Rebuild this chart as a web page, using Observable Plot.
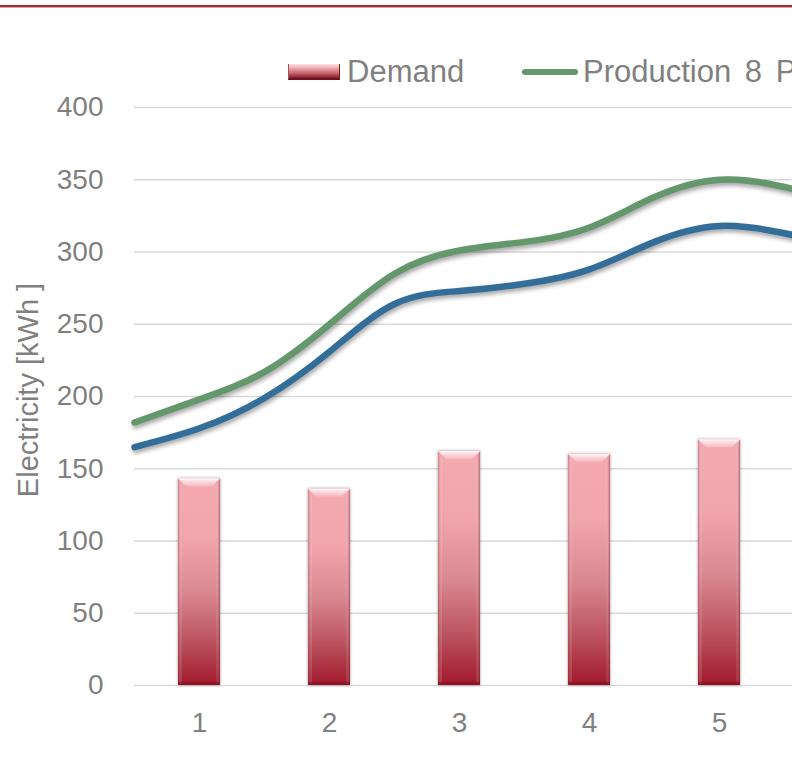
<!DOCTYPE html>
<html>
<head>
<meta charset="utf-8">
<script src="https://cdn.jsdelivr.net/npm/d3@7"></script>
<script src="https://cdn.jsdelivr.net/npm/@observablehq/plot@0.6"></script>
<style>
  html, body { margin: 0; padding: 0; overflow: hidden; background: #fff; width: 792px; height: 777px; }
  #wrap { position: relative; width: 934px; height: 777px; font-family: "Liberation Sans", Arial, sans-serif; color: #808080; }
  #topRule { position: absolute; left: 0; top: 5px; width: 100%; height: 2px; background: #a3283e; }
  #topRule2 { position: absolute; left: 0; top: 7px; width: 100%; height: 1px; background: #dba1aa; }
  #chart { position: absolute; left: 0; top: 0; }
  #legend { position: absolute; left: 288px; top: 52px; height: 40px; white-space: nowrap; font-size: 31px; line-height: 40px; word-spacing: 5px; }
  .item { position: absolute; top: 0; display: flex; align-items: center; height: 40px; }
  .barSwatch { width: 52px; height: 16px; box-sizing: border-box; margin-right: 7px;
    background: linear-gradient(to bottom, #fde6e9 0%, #f2b3ba 25%, #c9646f 65%, #85192a 100%);
    border-bottom: 2px solid #6e1020; border-left: 1px solid #a0505c; border-right: 1px solid #7a1a28; }
  .lineSwatch { width: 56px; height: 6px; border-radius: 3px; background: #64976b; margin-right: 5px; }
  #ytitle { position: absolute; left: 28px; top: 390px; transform: translate(-50%, -50%) rotate(-90deg); font-size: 29px; white-space: nowrap; }
  g[aria-label="line"] { filter: drop-shadow(1px 3px 2px rgba(0,0,0,0.35)); }
  g[aria-label="rect"] { filter: drop-shadow(0 0 1.5px rgba(60,0,10,0.45)); }
</style>
</head>
<body>
<div id="wrap">
  <div id="topRule"></div>
  <div id="topRule2"></div>
  <div id="chart"></div>
  <div id="legend"></div>
  <div id="ytitle"></div>
</div>
<script>
// Daily categories and the demand per category (kWh)
const categories = [1, 2, 3, 4, 5];
const demand = [143, 136, 162, 160, 170];

// Production curves, sampled at whole and half categories (kWh)
const linePositions = [0.5, 1, 1.5, 2, 2.5, 3, 3.5, 4, 4.5, 5, 5.5, 6];
const production8 = [182, 198, 217, 250, 285, 301, 307, 317, 338, 350, 345, 333];
const production7 = [165, 178, 199, 231, 264, 273, 278, 288, 307, 318, 313, 303];

const yTicks = [0, 50, 100, 150, 200, 250, 300, 350, 400];
const seriesNames = ["Demand", "Production 8 PV modules", "Production 7 PV modules"];
const seriesColors = ["#b03a48", "#64976b", "#336d9a"];
const yTitle = "Electricity [kWh ]";

const demandRows = categories.map((c, i) => ({cat: c, value: demand[i]}));
const prod8Rows = linePositions.map((p, i) => ({pos: p, value: production8[i]}));
const prod7Rows = linePositions.map((p, i) => ({pos: p, value: production7[i]}));

const chart = Plot.plot({
  width: 934,
  height: 777,
  marginLeft: 134,
  marginRight: 20,
  marginTop: 107,
  marginBottom: 92,
  style: {
    fontFamily: "'Liberation Sans', Arial, sans-serif",
    fontSize: "28px",
    color: "#808080",
    background: "transparent",
    overflow: "visible"
  },
  x: {type: "linear", domain: [0.5, 6.5], ticks: categories, tickFormat: d => String(d),
      tickSize: 0, tickPadding: 27, label: null},
  y: {domain: [0, 400], ticks: yTicks, tickSize: 0, tickPadding: 31, label: null},
  marks: [
    Plot.ruleY(yTicks, {stroke: "#d9d9d9", strokeWidth: 1.5}),
    Plot.rectY(demandRows, {
      x1: d => d.cat - 0.5, x2: d => d.cat + 0.5, y: "value",
      insetLeft: 44, insetRight: 44, fill: "url(#barFill)"
    }),
    Plot.line(prod8Rows, {x: "pos", y: "value", stroke: seriesColors[1], strokeWidth: 6.5, curve: "natural"}),
    Plot.line(prod7Rows, {x: "pos", y: "value", stroke: seriesColors[2], strokeWidth: 6.5, curve: "natural"})
  ]
});

// Gradients for the bevelled bars
const svg = d3.select(chart);
const defs = svg.insert("defs", ":first-child");
const addGrad = (id, stops, horizontal) => {
  const g = defs.append("linearGradient").attr("id", id)
    .attr("x1", 0).attr("y1", 0).attr("x2", horizontal ? 1 : 0).attr("y2", horizontal ? 0 : 1);
  stops.forEach(([o, c, a]) => g.append("stop").attr("offset", o).attr("stop-color", c).attr("stop-opacity", a ?? 1));
};
addGrad("barFill", [[0, "#f5aab2"], [0.3, "#f0a4ac"], [0.55, "#d98891"], [0.8, "#b9505c"], [1, "#a1182b"]]);
addGrad("bevelTop", [[0, "#ffffff", 0.95], [1, "#f7c4c9", 0.6]]);
addGrad("bevelLeft", [[0, "#8a3a45", 0.35], [1, "#ffffff", 0.12]], true);
addGrad("bevelRight", [[0, "#ffffff", 0.05], [1, "#6a1020", 0.45]], true);

// Bevel faces drawn on top of each bar, sized from the bar itself
const rectGroup = chart.querySelector('g[aria-label="rect"]');
const bevel = document.createElementNS("http://www.w3.org/2000/svg", "g");
rectGroup.after(bevel);
rectGroup.querySelectorAll("rect").forEach(r => {
  const x = +r.getAttribute("x"), y = +r.getAttribute("y");
  const w = +r.getAttribute("width"), h = +r.getAttribute("height");
  const b = 8, s = 4;
  const g = d3.select(bevel);
  g.append("polygon").attr("points", `${x},${y} ${x + w},${y} ${x + w - b},${y + b} ${x + b},${y + b}`).attr("fill", "url(#bevelTop)");
  g.append("polygon").attr("points", `${x},${y} ${x + s},${y + b} ${x + s},${y + h - 2} ${x},${y + h}`).attr("fill", "url(#bevelLeft)");
  g.append("polygon").attr("points", `${x + w},${y} ${x + w - s},${y + b} ${x + w - s},${y + h - 2} ${x + w},${y + h}`).attr("fill", "url(#bevelRight)");
  g.append("rect").attr("x", x).attr("y", y + h - 3).attr("width", w).attr("height", 3).attr("fill", "#7a0c1c").attr("opacity", 0.5);
});

document.getElementById("chart").appendChild(chart);

// Legend
const legend = document.getElementById("legend");
legend.innerHTML =
  `<div class="item" style="left:0px"><span class="barSwatch"></span><span>${seriesNames[0]}</span></div>` +
  `<div class="item" style="left:234px"><span class="lineSwatch" style="background:${seriesColors[1]}"></span><span>${seriesNames[1]}</span></div>` +
  `<div class="item" style="left:660px"><span class="lineSwatch" style="background:${seriesColors[2]}"></span><span>${seriesNames[2]}</span></div>`;

document.getElementById("ytitle").textContent = yTitle;
</script>
</body>
</html>
